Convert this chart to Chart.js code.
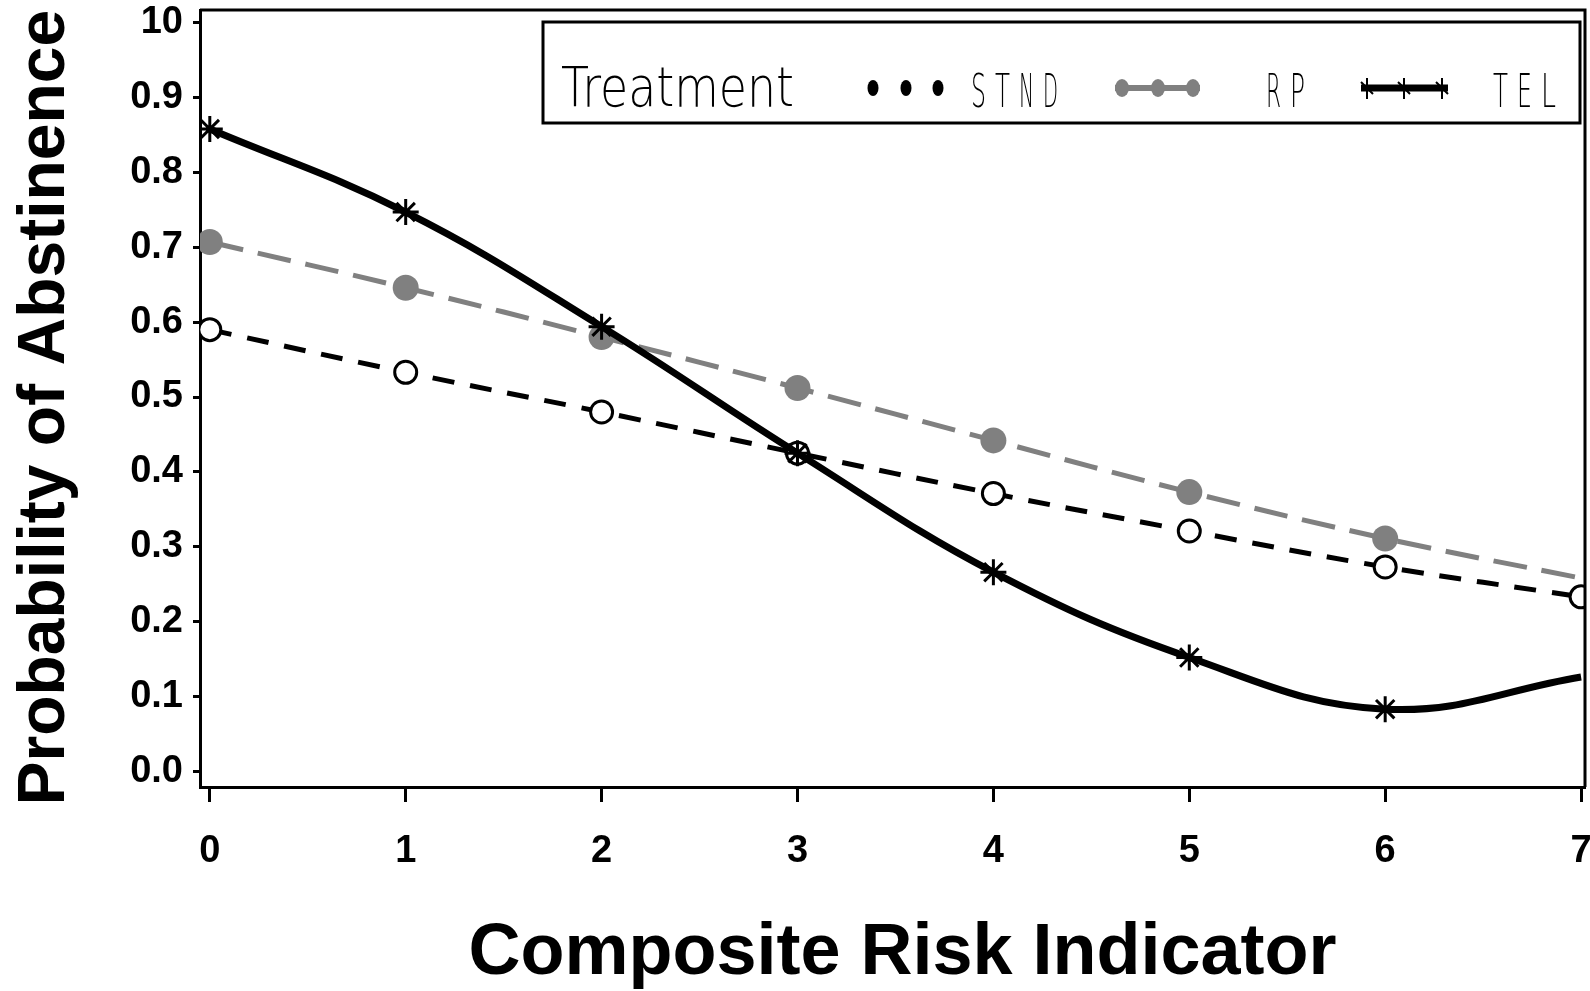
<!DOCTYPE html>
<html>
<head>
<meta charset="utf-8">
<script src="https://cdn.jsdelivr.net/npm/chart.js@4/dist/chart.umd.min.js"></script>
<style>
  html, body { margin: 0; padding: 0; background: #fff; }
</style>
</head>
<body>
<canvas id="grafica" width="1590" height="991"></canvas>
<script>
// Valores (probabilidad de abstinencia por indicador de riesgo)
var riesgo = [0, 1, 2, 3, 4, 5, 6, 7];
var stnd = [0.590, 0.533, 0.480, 0.425, 0.371, 0.321, 0.273, 0.233];
var rp = [0.707, 0.646, 0.580, 0.512, 0.442, 0.373, 0.311, 0.258];
var tel = [0.858, 0.747, 0.594, 0.425, 0.266, 0.152, 0.083, 0.126];

var tratamientos = ["STND", "RP", "TEL"];
var xTicks = [0, 1, 2, 3, 4, 5, 6, 7];
var yTicks = [0, 0.1, 0.2, 0.3, 0.4, 0.5, 0.6, 0.7, 0.8, 0.9, 1.0];
var yTickLabels = ["0.0", "0.1", "0.2", "0.3", "0.4", "0.5", "0.6", "0.7", "0.8", "0.9", "10"];

var GRIS = "#808080";

function puntos(valores) {
  return riesgo.map(function (x, i) { return { x: x, y: valores[i] }; });
}

// texto angosto (fuente tipo SAS) ajustado a un ancho
function textoAngosto(ctx, txt, x, base, ancho, size) {
  ctx.font = '200 ' + size + 'px "DejaVu Sans"';
  var w = ctx.measureText(txt).width;
  ctx.save();
  ctx.translate(x, base);
  ctx.scale(ancho / w, 1);
  ctx.textAlign = "left";
  ctx.textBaseline = "alphabetic";
  ctx.fillText(txt, 0, 0);
  ctx.restore();
}

// etiquetas monoespaciadas de la leyenda
function textoMono(ctx, txt, x, base) {
  for (var i = 0; i < txt.length; i++) {
    textoAngosto(ctx, txt[i], x + 24 * i, base, 15, 47);
  }
}

// marco superior/derecho y leyenda
var marco = {
  id: "marco",
  afterDatasetsDraw: function (chart) {
    var a = chart.chartArea;
    var ctx = chart.ctx;
    ctx.save();
    ctx.strokeStyle = "#000";
    ctx.lineWidth = 3;
    ctx.beginPath();
    ctx.moveTo(a.left, a.top);
    ctx.lineTo(a.right, a.top);
    ctx.lineTo(a.right, a.bottom);
    ctx.stroke();
    ctx.restore();
  },
  afterDraw: function (chart) {
    var ctx = chart.ctx;
    var ds = chart.data.datasets;
    ctx.save();
    ctx.fillStyle = "#fff";
    ctx.fillRect(543, 22, 1037, 101);
    ctx.strokeStyle = "#000";
    ctx.lineWidth = 3;
    ctx.strokeRect(543, 22, 1037, 101);
    ctx.fillStyle = "#000";
    textoAngosto(ctx, "Treatment", 561, 106, 233, 55);

    // STND
    ctx.fillStyle = ds[0].borderColor;
    [873, 906, 938].forEach(function (cx) {
      ctx.beginPath();
      ctx.ellipse(cx, 88, 5.5, 8, 0, 0, Math.PI * 2);
      ctx.fill();
    });
    ctx.fillStyle = "#000";
    textoMono(ctx, tratamientos[0], 971, 107);

    // RP
    ctx.strokeStyle = ds[1].borderColor;
    ctx.fillStyle = ds[1].borderColor;
    ctx.lineWidth = 6;
    ctx.beginPath();
    ctx.moveTo(1115, 88);
    ctx.lineTo(1200, 88);
    ctx.stroke();
    [1122, 1158, 1193].forEach(function (cx) {
      ctx.beginPath();
      ctx.ellipse(cx, 88, 7, 9, 0, 0, Math.PI * 2);
      ctx.fill();
    });
    ctx.fillStyle = "#000";
    textoMono(ctx, tratamientos[1], 1266, 107);

    // TEL
    ctx.strokeStyle = ds[2].borderColor;
    ctx.lineWidth = 7;
    ctx.beginPath();
    ctx.moveTo(1361, 88);
    ctx.lineTo(1448, 88);
    ctx.stroke();
    ctx.lineWidth = 2;
    [1367, 1404, 1442].forEach(function (cx) {
      ctx.beginPath();
      ctx.moveTo(cx, 78);
      ctx.lineTo(cx, 99);
      ctx.moveTo(cx - 6, 82);
      ctx.lineTo(cx + 6, 94);
      ctx.stroke();
    });
    ctx.fillStyle = "#000";
    textoMono(ctx, tratamientos[2], 1493, 107);
    ctx.restore();
  }
};

var fuenteTicks = { family: '"Liberation Sans", Arial, sans-serif', size: 38, weight: "bold" };

var grafica = new Chart(document.getElementById("grafica"), {
  type: "line",
  data: {
    datasets: [{
      label: tratamientos[0],
      data: puntos(stnd),
      borderColor: "#000",
      borderWidth: 5,
      borderDash: [22, 16],
      tension: 0.4,
      pointStyle: "circle",
      pointRadius: 11,
      pointBorderWidth: 3,
      pointBackgroundColor: "#fff",
      pointBorderColor: "#000",
      order: 2
    }, {
      label: tratamientos[1],
      data: puntos(rp),
      borderColor: GRIS,
      borderWidth: 5,
      borderDash: [34, 15],
      tension: 0.4,
      pointStyle: "circle",
      pointRadius: [13, 13, 13, 13, 13, 13, 13, 0],
      pointBorderWidth: 0,
      pointBackgroundColor: GRIS,
      pointBorderColor: GRIS,
      order: 3
    }, {
      label: tratamientos[2],
      data: puntos(tel),
      borderColor: "#000",
      borderWidth: 7,
      tension: 0.4,
      pointStyle: "star",
      pointRadius: [13, 13, 13, 13, 13, 13, 13, 0],
      pointBorderWidth: 3,
      pointBackgroundColor: "#000",
      pointBorderColor: "#000",
      order: 1
    }]
  },
  options: {
    responsive: false,
    animation: false,
    devicePixelRatio: 1,
    layout: { autoPadding: false, padding: { top: 10, right: 5, left: 0, bottom: 0 } },
    plugins: {
      legend: { display: false },
      tooltip: { enabled: false }
    },
    scales: {
      x: {
        type: "linear",
        min: -0.05,
        max: 7.02,
        afterBuildTicks: function (s) { s.ticks = xTicks.map(function (v) { return { value: v }; }); },
        afterFit: function (s) { s.height = 204; s.paddingLeft = 0; s.paddingRight = 0; },
        ticks: { color: "#000", font: fuenteTicks, padding: 27, maxRotation: 0, callback: function (v) { return String(v); } },
        grid: { drawOnChartArea: false, drawTicks: true, tickLength: 15, tickWidth: 3, tickColor: "#000" },
        border: { color: "#000", width: 3 },
        title: {
          display: true,
          text: " Composite Risk Indicator",
          color: "#000",
          font: { family: '"Liberation Sans", Arial, sans-serif', size: 72, weight: "bold" },
          padding: { top: 0, bottom: -6 }
        }
      },
      y: {
        type: "linear",
        min: -0.021,
        max: 1.017,
        afterBuildTicks: function (s) { s.ticks = yTicks.map(function (v) { return { value: v }; }); },
        afterFit: function (s) { s.width = 200; s.paddingTop = 0; s.paddingBottom = 0; },
        ticks: { color: "#000", font: fuenteTicks, padding: 10, callback: function (v, i) { return yTickLabels[i]; } },
        grid: { drawOnChartArea: false, drawTicks: true, tickLength: 7, tickWidth: 3, tickColor: "#000" },
        border: { color: "#000", width: 3 },
        title: {
          display: true,
          text: "Probability of Abstinence ",
          color: "#000",
          font: { family: '"Liberation Sans", Arial, sans-serif', size: 66, weight: "bold" },
          padding: { top: 6, bottom: 0 }
        }
      }
    }
  },
  plugins: [marco]
});
</script>
</body>
</html>
